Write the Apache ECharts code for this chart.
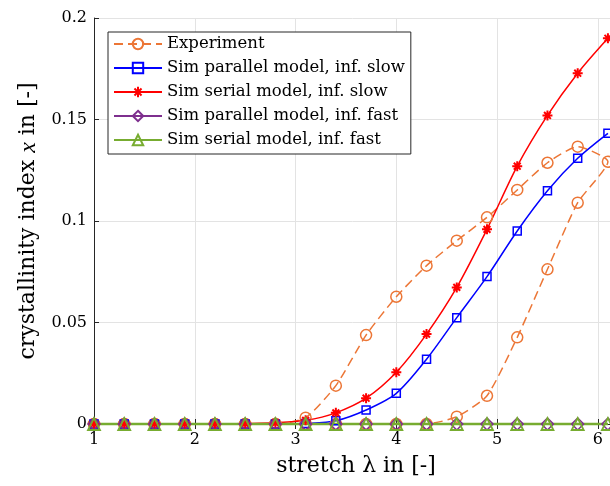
<!DOCTYPE html>
<html><head><meta charset="utf-8">
<script src="https://cdn.jsdelivr.net/npm/echarts@6/dist/echarts.min.js"></script>
<style>html,body{margin:0;padding:0;background:#fff}#c{width:610px;height:486px}</style>
</head><body><div id="c"></div>
<script>
// stretch grid for simulations
const stretch = [1.0,1.3,1.6,1.9,2.2,2.5,2.8,3.1,3.4,3.7,4.0,4.3,4.6,4.9,5.2,5.5,5.8,6.1];
const simParallelSlow = [0,0,0,0,0,0,0,0.0003,0.0016,0.0069,0.0151,0.0319,0.0524,0.0726,0.0951,0.1149,0.1309,0.1432];
const simSerialSlow   = [0,0,0,0,0,0.0002,0.0006,0.0018,0.0055,0.0127,0.0255,0.0443,0.0673,0.0959,0.127,0.152,0.1728,0.190];
const simParallelFast = [0,0,0,0,0,0,0,0,0,0,0,0,0,0,0,0,0,0];
const simSerialFast   = [0,0,0,0,0,0,0,0,0,0,0,0,0,0,0,0,0,0];
// experiment: loading then unloading
const expStretch = [1.0,1.3,1.6,1.9,2.2,2.5,2.8,3.1,3.4,3.7,4.0,4.3,4.6,4.9,5.2,5.5,5.8,6.1,
                    5.8,5.5,5.2,4.9,4.6,4.3,4.0,3.7,3.4,3.1,2.8,2.5,2.2,1.9,1.6,1.3,1.0];
const expValues  = [0,0,0,0,0,0,0,0.0031,0.0189,0.0438,0.0627,0.078,0.0903,0.1018,0.1153,0.1287,0.1366,0.1292,
                    0.109,0.0762,0.0427,0.0139,0.0036,0,0,0,0,0,0,0,0,0,0,0,0];
const xTicks = [1,2,3,4,5,6];
const yTicks = [0,0.05,0.1,0.15,0.2];
const names = ['Experiment','Sim parallel model, inf. slow','Sim serial model, inf. slow','Sim parallel model, inf. fast','Sim serial model, inf. fast'];

const pair = (xs, ys) => xs.map((x,i)=>[x, ys[i]]);
const FONT = 'DejaVu Serif';
const axisCol = '#262626';
const star = 'path://M5,0 L5,10 M0,5 L10,5 M1.6,1.6 L8.4,8.4 M1.6,8.4 L8.4,1.6';

function ser(name, data, color, symbol, size, extra) {
  return Object.assign({
    name, type:'line', data, clip:false, showSymbol:true, symbol, symbolSize:size, z:5,
    lineStyle:{color, width:1.5},
    itemStyle:{color:'transparent', borderColor:color, borderWidth:1.5},
    emphasis:{disabled:true}, animation:false
  }, extra||{});
}

const chart = echarts.init(document.getElementById('c'), null, {renderer:'canvas'});
chart.setOption({
  animation:false,
  backgroundColor:'#fff',
  grid:{left:94, width:524, top:18, bottom:62, containLabel:false, outerBoundsMode:'none'},
  xAxis:[{
    type:'value', min:1, max:6.2, interval:1, z:0,
    name:'stretch \u03bb in [-]', nameLocation:'middle', nameGap:31,
    nameTextStyle:{fontFamily:FONT, fontSize:22, color:'#000'},
    axisLine:{show:true, onZero:false, lineStyle:{color:axisCol, width:1}},
    axisTick:{show:true, inside:true, length:5, lineStyle:{color:axisCol}},
    axisLabel:{fontFamily:FONT, fontSize:16, color:'#000', margin:8, showMaxLabel:false,
      formatter:v=> xTicks.includes(v) ? String(v) : ''},
    splitLine:{show:true, lineStyle:{color:'#e3e3e3', width:1}}
  },{
    type:'value', position:'top', min:1, max:6.2, interval:1, z:0,
    axisLine:{show:true, lineStyle:{color:axisCol, width:1}},
    axisTick:{show:true, inside:true, length:5, lineStyle:{color:axisCol}},
    axisLabel:{show:false}, splitLine:{show:false}
  }],
  yAxis:{
    type:'value', min:0, max:0.2, interval:0.05, z:0,
    name:'{a|crystallinity index }{i|x}{a| in [-]}', nameLocation:'middle', nameGap:45,
    nameTextStyle:{fontFamily:FONT, fontSize:22, color:'#000',
      rich:{a:{fontFamily:FONT, fontSize:22, color:'#000'}, i:{fontFamily:'Liberation Serif', fontSize:24, fontStyle:'italic', color:'#000'}}},
    axisLine:{show:true, lineStyle:{color:axisCol, width:1}},
    axisTick:{show:true, inside:true, length:5, lineStyle:{color:axisCol}},
    axisLabel:{fontFamily:FONT, fontSize:16, color:'#000', margin:7,
      formatter:v=> yTicks.some(t=>Math.abs(t-v)<1e-9) ? String(+v.toFixed(2)) : ''},
    splitLine:{show:true, lineStyle:{color:'#e3e3e3', width:1}}
  },
  legend:{
    orient:'vertical', left:108, top:32, data:names, z:10,
    itemWidth:48, itemHeight:13, itemGap:6,
    padding:[3,6,5,5],
    backgroundColor:'#fff', borderColor:axisCol, borderWidth:1, borderRadius:0,
    textStyle:{fontFamily:FONT, fontSize:16.5, color:'#000', lineHeight:18},
    selectedMode:false
  },
  series:[
    ser(names[0], pair(expStretch, expValues), '#EC7636', 'circle', 11,
        {lineStyle:{color:'#EC7636', width:1.5, type:[9,5]}, smooth:0.2}),
    ser(names[1], pair(stretch, simParallelSlow), '#0000FF', 'rect', 8, {smooth:0.3}),
    ser(names[2], pair(stretch, simSerialSlow), '#FF0000', star, 10,
        {smooth:0.3, itemStyle:{color:'transparent', borderColor:'#FF0000', borderWidth:2}}),
    ser(names[3], pair(stretch, simParallelFast), '#7E2F8E', 'diamond', 12),
    ser(names[4], pair(stretch, simSerialFast), '#77AC30', 'triangle', 12,
        {lineStyle:{color:'#77AC30', width:2.5}, itemStyle:{color:'transparent', borderColor:'#77AC30', borderWidth:1.8}})
  ]
});
</script></body></html>
